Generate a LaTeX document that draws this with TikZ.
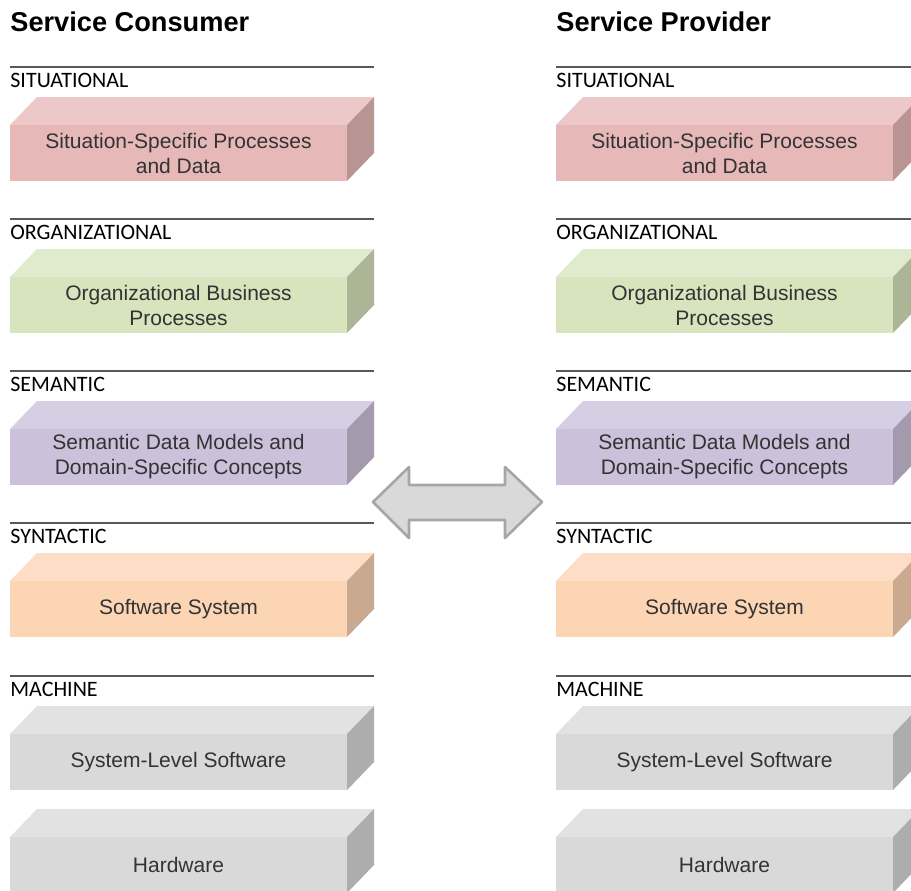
\documentclass[tikz,border=0pt]{standalone}
\usepackage{fontspec}
\setmainfont{Liberation Sans}
\newfontfamily\labelfont{Carlito}

\definecolor{sitF}{HTML}{E6B9B8}\definecolor{sitT}{HTML}{ECC9C8}\definecolor{sitS}{HTML}{B89493}
\definecolor{orgF}{HTML}{D7E4BD}\definecolor{orgT}{HTML}{E0EACD}\definecolor{orgS}{HTML}{ACB697}
\definecolor{semF}{HTML}{CCC1DA}\definecolor{semT}{HTML}{D6CEE2}\definecolor{semS}{HTML}{A39AAE}
\definecolor{synF}{HTML}{FCD5B5}\definecolor{synT}{HTML}{FDDDC6}\definecolor{synS}{HTML}{C9AA91}
\definecolor{macF}{HTML}{D9D9D9}\definecolor{macT}{HTML}{E2E2E2}\definecolor{macS}{HTML}{ADADAD}

\tikzset{
  title/.style={anchor=base west,inner sep=0pt,font=\fontsize{13.6}{16}\selectfont\bfseries},
  layerlabel/.style={anchor=base west,inner sep=0pt,text=black,font=\labelfont\fontsize{11}{13}\selectfont},
  slabtext/.style={align=center,inner sep=0pt,text=black!80,font=\fontsize{10.5}{12.5}\selectfont},
  rule/.style={draw=black!65,line width=0.7pt},
  biarrow/.style={fill=black!15,draw=black!35,line width=1.3pt,line join=round}
}

% slab: x, top of front face, colour key, name, text
\newcommand{\slab}[5]{%
  \fill[#3T] (#1,#2) -- (#1+27,#2-28) -- (#1+364,#2-28) -- (#1+337,#2) -- cycle;
  \fill[#3S] (#1+337,#2) -- (#1+364,#2-28) -- (#1+364,#2+28) -- (#1+337,#2+56) -- cycle;
  \fill[#3F] (#1,#2) rectangle (#1+337,#2+56);
  \node[slabtext] (#4) at (#1+168.5,#2+28) {#5};
}

\begin{document}
\begin{tikzpicture}[x=0.5pt,y=-0.5pt]
\clip (0,0) rectangle (911,890);

\foreach \cx/\col/\head in {10/cons/Service Consumer, 556/prov/Service Provider}{
  \node[title] (\col-title) at (\cx,31) {\head};
  \foreach \yt/\k/\lab/\txt in {
      125/sit/SITUATIONAL/{Situation-Specific Processes\\and Data},
      277/org/ORGANIZATIONAL/{Organizational Business\\Processes},
      429/sem/SEMANTIC/{Semantic Data Models and\\Domain-Specific Concepts},
      581/syn/SYNTACTIC/{Software System},
      734/mac/MACHINE/{System-Level Software}}{
    \draw[rule] (\cx,\yt-58) -- (\cx+364,\yt-58);
    \node[layerlabel] (\col-\k-label) at (\cx,\yt-38) {\lab};
    \slab{\cx}{\yt}{\k}{\col-\k}{\txt}
  }
  \slab{\cx}{837}{mac}{\col-hw}{Hardware}
}

% exchange between consumer and provider
\draw[biarrow] (373,502) -- (409,467) -- (409,485) -- (505,485) -- (505,467)
  -- (542,502) -- (505,538) -- (505,520) -- (409,520) -- (409,538) -- cycle;
\end{tikzpicture}
\end{document}
